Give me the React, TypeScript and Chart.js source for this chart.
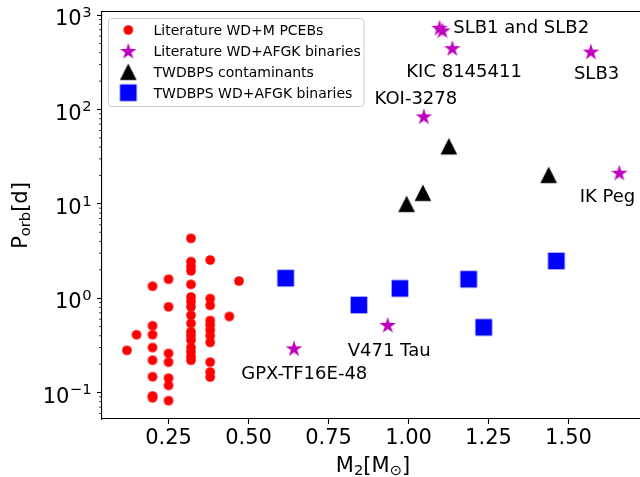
import React, { useEffect, useRef } from 'react';
import { Chart, registerables } from 'chart.js';

Chart.register(...registerables);

const FONT = 'DejaVu Sans';

// Literature WD+M PCEBs
const pcebMass = [
  0.12, 0.15,
  0.20, 0.20, 0.20, 0.20, 0.20, 0.20, 0.20, 0.20,
  0.25, 0.25, 0.25, 0.25, 0.25, 0.25, 0.25,
  0.32, 0.32, 0.32, 0.32, 0.32, 0.32, 0.32, 0.32, 0.32, 0.32, 0.32, 0.32, 0.32, 0.32, 0.32, 0.32, 0.32,
  0.38, 0.38, 0.38, 0.38, 0.38, 0.38, 0.38, 0.38, 0.38, 0.38, 0.38,
  0.44, 0.47,
];
const pcebPeriod = [
  0.28, 0.41,
  1.34, 0.51, 0.41, 0.30, 0.22, 0.147, 0.092, 0.088,
  1.59, 0.81, 0.26, 0.21, 0.142, 0.119, 0.082,
  4.31, 2.44, 2.16, 1.95, 1.40, 1.03, 0.92, 0.81, 0.66, 0.54, 0.44, 0.40, 0.36, 0.30, 0.27, 0.24, 0.22,
  2.54, 0.99, 0.84, 0.58, 0.52, 0.46, 0.40, 0.34, 0.21, 0.165, 0.146,
  0.64, 1.52,
];

// Literature WD+AFGK binaries
const litMass = [1.097, 1.106, 1.137, 1.57, 1.048, 1.659, 0.935, 0.642];
const litPeriod = [735, 690, 447, 411, 84.5, 21.4, 0.52, 0.294];

// TWDBPS contaminants
const contMass = [1.126, 1.438, 1.045, 0.994];
const contPeriod = [40.8, 20.3, 13.1, 10.0];

// TWDBPS WD+AFGK binaries
const twdMass = [0.616, 0.845, 0.973, 1.188, 1.235, 1.462];
const twdPeriod = [1.63, 0.847, 1.27, 1.59, 0.491, 2.48];

// Annotations (left-baseline anchor in data coordinates)
const annoText = ['SLB1 and SLB2', 'KIC 8145411', 'KOI-3278', 'SLB3', 'IK Peg', 'V471 Tau', 'GPX-TF16E-48'];
const annoX = [1.14, 0.993, 0.894, 1.517, 1.535, 0.81, 0.477];
const annoY = [644, 220, 115, 211, 10.5, 0.244, 0.138];

const legendLabels = [
  'Literature WD+M PCEBs',
  'Literature WD+AFGK binaries',
  'TWDBPS contaminants',
  'TWDBPS WD+AFGK binaries',
];

const xTickValues = [0.25, 0.5, 0.75, 1.0, 1.25, 1.5];
const xTickLabels = ['0.25', '0.50', '0.75', '1.00', '1.25', '1.50'];
const yTickValues = [0.1, 1, 10, 100, 1000];
const yTickExponents = ['\u22121', '0', '1', '2', '3'];
const yMinorTicks = [
  0.06, 0.07, 0.08, 0.09,
  0.2, 0.3, 0.4, 0.5, 0.6, 0.7, 0.8, 0.9,
  2, 3, 4, 5, 6, 7, 8, 9,
  20, 30, 40, 50, 60, 70, 80, 90,
  200, 300, 400, 500, 600, 700, 800, 900,
];

const X_MIN = 0.042;
const X_MAX = 1.736;
const Y_MIN = 0.0524;
const Y_MAX = 1081;

function makeMarker(shape: string, size: number, color: string): HTMLCanvasElement {
  let dim = Math.ceil(size) + 4;
  if (dim % 2 === 1) dim += 1;
  const c = document.createElement('canvas');
  c.width = dim;
  c.height = dim;
  const g = c.getContext('2d')!;
  const cx = dim / 2;
  const cy = dim / 2;
  const h = size / 2;
  g.fillStyle = color;
  g.beginPath();
  if (shape === 'circle') {
    g.arc(cx, cy, h, 0, Math.PI * 2);
  } else if (shape === 'square') {
    g.rect(cx - h, cy - h, size, size);
  } else if (shape === 'triangle') {
    g.moveTo(cx, cy - h);
    g.lineTo(cx + h, cy + h);
    g.lineTo(cx - h, cy + h);
    g.closePath();
  } else if (shape === 'star') {
    const R = h;
    const r = R * 0.381966;
    for (let i = 0; i < 10; i++) {
      const ang = -Math.PI / 2 + (i * Math.PI) / 5;
      const rr = i % 2 === 0 ? R : r;
      const px = cx + rr * Math.cos(ang);
      const py = cy + rr * Math.sin(ang) + 0.8;
      if (i === 0) g.moveTo(px, py);
      else g.lineTo(px, py);
    }
    g.closePath();
  }
  g.fill();
  return c;
}

type Part = { t: string; s: number; dy: number };

function partsWidth(ctx: CanvasRenderingContext2D, parts: Part[]) {
  let w = 0;
  for (const p of parts) {
    ctx.font = `${p.s}px "${FONT}"`;
    w += ctx.measureText(p.t).width;
  }
  return w;
}

function drawParts(ctx: CanvasRenderingContext2D, parts: Part[], x: number, y: number) {
  let cx = x;
  for (const p of parts) {
    ctx.font = `${p.s}px "${FONT}"`;
    ctx.fillText(p.t, cx, y + p.dy);
    cx += ctx.measureText(p.t).width;
  }
}

export default function App() {
  const ref = useRef<HTMLCanvasElement>(null);

  useEffect(() => {
    if (!ref.current) return;
    const mCircle = makeMarker('circle', 9.7, '#ff0000');
    const mStar = makeMarker('star', 17.4, '#bf00bf');
    const mTri = makeMarker('triangle', 16.7, '#000000');
    const mSq = makeMarker('square', 16.7, '#0000ff');
    const legendMarkers = [mCircle, mStar, mTri, mSq];

    const overlay = {
      id: 'overlay',
      afterDraw(chart: any) {
        const { ctx, chartArea: a, scales } = chart;
        const xs = scales.x;
        const ys = scales.y;
        ctx.save();
        // top and right spines
        ctx.strokeStyle = '#000';
        ctx.lineWidth = 1.1;
        ctx.beginPath();
        ctx.moveTo(a.left, 11.55);
        ctx.lineTo(a.right - 0.55, 11.55);
        ctx.lineTo(a.right - 0.55, a.bottom);
        ctx.stroke();
        // minor y ticks
        ctx.lineWidth = 0.83;
        for (const v of yMinorTicks) {
          const y = ys.getPixelForValue(v);
          ctx.beginPath();
          ctx.moveTo(a.left - 2.8, y);
          ctx.lineTo(a.left, y);
          ctx.stroke();
        }
        // y tick labels (10^n)
        ctx.fillStyle = '#000';
        ctx.textAlign = 'left';
        ctx.textBaseline = 'alphabetic';
        yTickValues.forEach((v, i) => {
          const y = ys.getPixelForValue(v);
          const es = yTickExponents[i];
          ctx.font = `21px "${FONT}"`;
          const w1 = ctx.measureText('10').width;
          ctx.font = `14.7px "${FONT}"`;
          const w2 = ctx.measureText(es).width;
          const right = a.left - 10.5;
          const x0 = right - w1 - w2 - 0.5;
          ctx.font = `21px "${FONT}"`;
          ctx.fillText('10', x0, y + 10.2);
          ctx.font = `14.7px "${FONT}"`;
          ctx.fillText(es, x0 + w1 + 0.5, y + 1.7);
        });
        // axis titles
        const xParts: Part[] = [
          { t: 'M', s: 21, dy: 0 },
          { t: '2', s: 14.7, dy: 3.5 },
          { t: '[M', s: 21, dy: 0 },
          { t: '\u2299', s: 14.7, dy: 3.5 },
          { t: ']', s: 21, dy: 0 },
        ];
        const xw = partsWidth(ctx, xParts);
        drawParts(ctx, xParts, (a.left + a.right) / 2 - xw / 2, a.bottom + 52.7);
        const yParts: Part[] = [
          { t: 'P', s: 21, dy: 0 },
          { t: 'orb', s: 14.7, dy: 3.5 },
          { t: '[d]', s: 21, dy: 0 },
        ];
        const yw = partsWidth(ctx, yParts);
        ctx.save();
        ctx.translate(26.7, (a.top + a.bottom) / 2);
        ctx.rotate(-Math.PI / 2);
        drawParts(ctx, yParts, -yw / 2, 0);
        ctx.restore();
        // annotations
        ctx.font = `18px "${FONT}"`;
        annoText.forEach((t, i) => {
          ctx.fillText(t, xs.getPixelForValue(annoX[i]), ys.getPixelForValue(annoY[i]));
        });
        // legend
        const lx = a.left + 6.5;
        const ly = a.top + 6.5;
        const lw = 255.5;
        const lh = 88;
        ctx.beginPath();
        ctx.roundRect(lx, ly, lw, lh, 3);
        ctx.fillStyle = 'rgba(255,255,255,0.8)';
        ctx.fill();
        ctx.strokeStyle = '#cccccc';
        ctx.lineWidth = 1;
        ctx.stroke();
        ctx.fillStyle = '#000';
        ctx.font = `14px "${FONT}"`;
        legendLabels.forEach((t, i) => {
          const cy = ly + 11.5 + 20.9 * i;
          const m = legendMarkers[i];
          ctx.drawImage(m, lx + 19.8 - m.width / 2, cy - m.height / 2);
          ctx.fillText(t, lx + 45, cy + 5.1);
        });
        ctx.restore();
      },
    };

    const toPts = (xs: number[], ys: number[]) => xs.map((x, i) => ({ x, y: ys[i] }));

    const chart = new Chart(ref.current, {
      type: 'scatter',
      data: {
        datasets: [
          { label: legendLabels[0], data: toPts(pcebMass, pcebPeriod), pointStyle: mCircle as any, pointRadius: 5, pointHoverRadius: 5, showLine: false },
          { label: legendLabels[1], data: toPts(litMass, litPeriod), pointStyle: mStar as any, pointRadius: 8, pointHoverRadius: 8, showLine: false },
          { label: legendLabels[2], data: toPts(contMass, contPeriod), pointStyle: mTri as any, pointRadius: 8, pointHoverRadius: 8, showLine: false },
          { label: legendLabels[3], data: toPts(twdMass, twdPeriod), pointStyle: mSq as any, pointRadius: 8, pointHoverRadius: 8, showLine: false },
        ],
      },
      options: {
        responsive: false,
        animation: false,
        devicePixelRatio: 1,
        events: [],
        layout: { autoPadding: false, padding: { top: 12, left: 0, right: 0, bottom: 0 } },
        plugins: {
          legend: { display: false },
          tooltip: { enabled: false },
        },
        scales: {
          x: {
            type: 'linear',
            position: 'bottom',
            min: X_MIN,
            max: X_MAX,
            afterBuildTicks: (s: any) => {
              s.ticks = xTickValues.map((v) => ({ value: v }));
            },
            afterFit: (s: any) => {
              s.height = 58;
              s.paddingLeft = 0;
              s.paddingRight = 0;
            },
            ticks: {
              autoSkip: false,
              maxRotation: 0,
              minRotation: 0,
              padding: 2,
              color: '#000',
              font: { family: FONT, size: 21 },
              callback: (v: any) => {
                const i = xTickValues.findIndex((t) => Math.abs(t - Number(v)) < 1e-9);
                return i >= 0 ? xTickLabels[i] : '';
              },
            },
            grid: { display: true, drawOnChartArea: false, drawTicks: true, tickLength: 5, tickWidth: 1.1, tickColor: '#000' },
            border: { display: true, color: '#000', width: 1.1 },
          },
          y: {
            type: 'logarithmic',
            position: 'left',
            min: Y_MIN,
            max: Y_MAX,
            afterBuildTicks: (s: any) => {
              s.ticks = yTickValues.map((v) => ({ value: v, major: true }));
            },
            afterFit: (s: any) => {
              s.width = 102;
              s.paddingTop = 0;
              s.paddingBottom = 0;
            },
            ticks: { display: false },
            grid: { display: true, drawOnChartArea: false, drawTicks: true, tickLength: 5, tickWidth: 1.1, tickColor: '#000' },
            border: { display: true, color: '#000', width: 1.1 },
          },
        },
      },
      plugins: [overlay],
    } as any);

    return () => chart.destroy();
  }, []);

  return (
    <div
      style={{
        position: 'fixed',
        left: 0,
        top: 0,
        width: 640,
        height: 477,
        overflow: 'hidden',
        background: '#ffffff',
      }}
    >
      <canvas ref={ref} width={644} height={477} style={{ display: 'block', width: 644, height: 477 }} />
    </div>
  );
}
